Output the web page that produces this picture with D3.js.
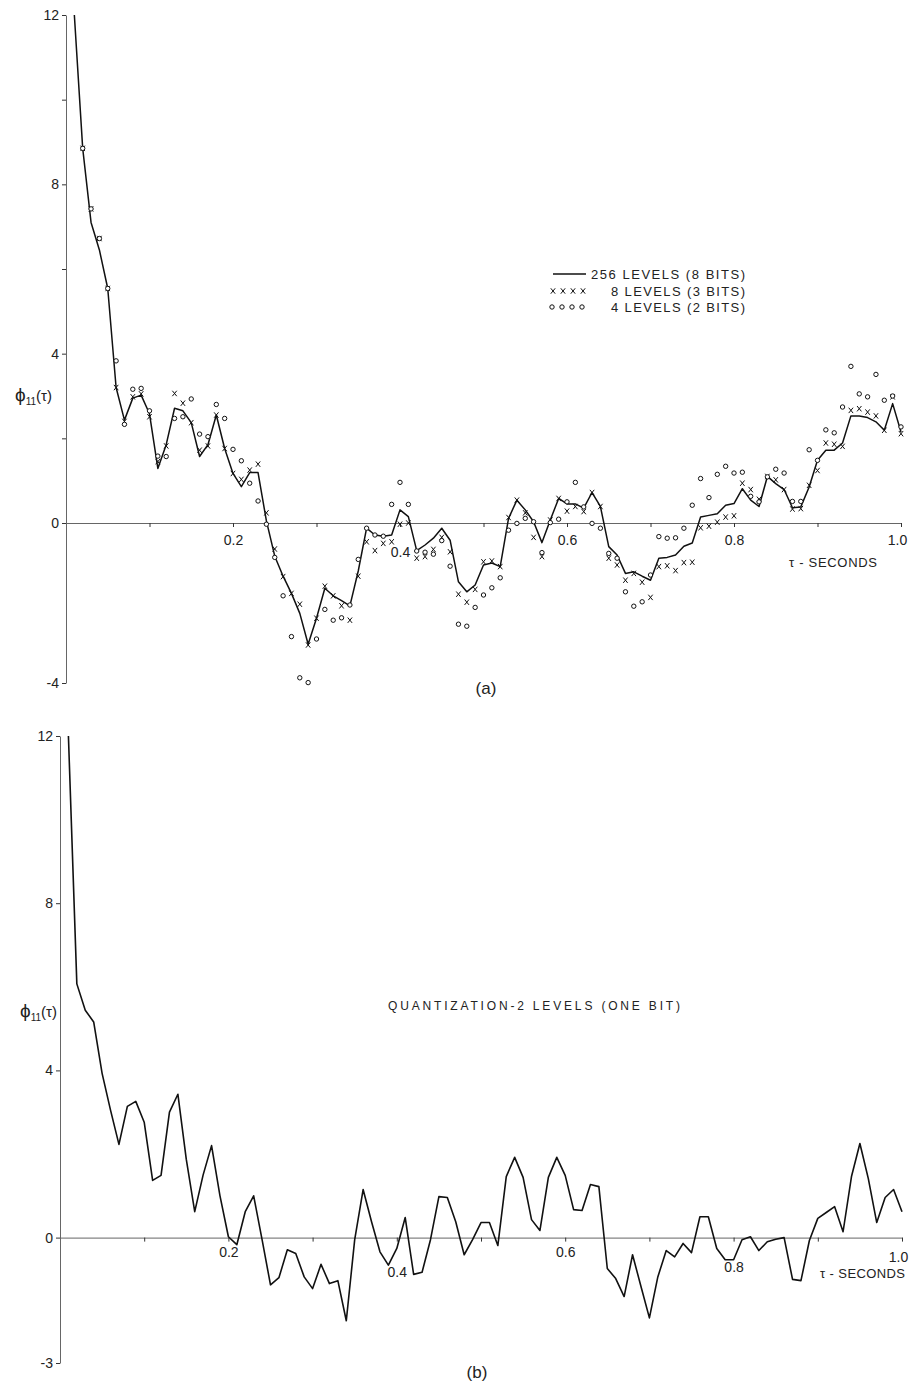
<!DOCTYPE html>
<html>
<head>
<meta charset="utf-8">
<script src="https://cdn.jsdelivr.net/npm/d3@7"></script>
<style>
  body { margin: 0; background: #fff; }
  svg text { font-family: 'Liberation Sans', 'DejaVu Sans', sans-serif; fill: #222; }
  .axis .domain { stroke: #666; stroke-width: 1; }
  .axis .tick line { stroke: #333; stroke-width: 1; }
  .axis .tick text { font-size: 14px; fill: #222; }
</style>
</head>
<body>
<svg id="chart" width="909" height="1387"></svg>
<script>
// lag tau in seconds (one sample every 0.01 s)
const tau = [0.01, 0.02, 0.03, 0.04, 0.05, 0.06, 0.07, 0.08, 0.09, 0.10,
  0.11, 0.12, 0.13, 0.14, 0.15, 0.16, 0.17, 0.18, 0.19, 0.20,
  0.21, 0.22, 0.23, 0.24, 0.25, 0.26, 0.27, 0.28, 0.29, 0.30,
  0.31, 0.32, 0.33, 0.34, 0.35, 0.36, 0.37, 0.38, 0.39, 0.40,
  0.41, 0.42, 0.43, 0.44, 0.45, 0.46, 0.47, 0.48, 0.49, 0.50,
  0.51, 0.52, 0.53, 0.54, 0.55, 0.56, 0.57, 0.58, 0.59, 0.60,
  0.61, 0.62, 0.63, 0.64, 0.65, 0.66, 0.67, 0.68, 0.69, 0.70,
  0.71, 0.72, 0.73, 0.74, 0.75, 0.76, 0.77, 0.78, 0.79, 0.80,
  0.81, 0.82, 0.83, 0.84, 0.85, 0.86, 0.87, 0.88, 0.89, 0.90,
  0.91, 0.92, 0.93, 0.94, 0.95, 0.96, 0.97, 0.98, 0.99, 1.00];

// (a) 256 levels (8 bits) - solid line
const levels256 = [12, 8.85, 7.1, 6.45, 5.54, 3.2, 2.43, 2.95, 3.02, 2.58,
  1.29, 1.85, 2.71, 2.65, 2.37, 1.57, 1.85, 2.55, 1.76, 1.17,
  0.86, 1.19, 1.19, 0.05, -0.83, -1.33, -1.76, -2.26, -3.03, -2.38,
  -1.63, -1.82, -1.94, -2.07, -1.2, -0.13, -0.3, -0.33, -0.3, 0.31,
  0.15, -0.69, -0.55, -0.38, -0.13, -0.43, -1.47, -1.72, -1.55, -1.05,
  -1.0, -1.09, 0.11, 0.54, 0.31, 0.03, -0.49, 0.07, 0.58, 0.45,
  0.45, 0.35, 0.72, 0.39, -0.59, -0.8, -1.26, -1.22, -1.33, -1.43,
  -0.88, -0.86, -0.8, -0.58, -0.5, 0.14, 0.18, 0.22, 0.42, 0.46,
  0.81, 0.54, 0.39, 1.1, 0.93, 0.79, 0.36, 0.38, 0.85, 1.48,
  1.72, 1.72, 1.89, 2.53, 2.53, 2.49, 2.39, 2.19, 2.82, 2.15];

// (a) 8 levels (3 bits) - x marks
const levels8 = [null, 8.85, 7.42, 6.72, 5.54, 3.2, 2.4, 2.98, 3.05, 2.51,
  1.45, 1.82, 3.06, 2.83, 2.37, 1.72, 1.82, 2.55, 1.76, 1.17,
  1.03, 1.25, 1.39, 0.24, -0.65, -1.34, -1.76, -2.03, -3.05, -2.38,
  -1.58, -1.82, -2.07, -2.43, -1.33, -0.47, -0.69, -0.51, -0.47, -0.03,
  0.0, -0.88, -0.84, -0.66, -0.36, -0.72, -1.78, -1.98, -1.66, -0.97,
  -0.95, -1.09, 0.13, 0.54, 0.24, -0.36, -0.84, 0.07, 0.58, 0.28,
  0.39, 0.27, 0.72, 0.39, -0.88, -1.05, -1.43, -1.26, -1.48, -1.86,
  -1.09, -1.07, -1.19, -0.99, -0.98, -0.12, -0.08, 0.02, 0.14, 0.17,
  0.94, 0.79, 0.56, 1.1, 1.02, 0.79, 0.33, 0.34, 0.89, 1.24,
  1.89, 1.86, 1.81, 2.66, 2.7, 2.62, 2.53, 2.19, 2.98, 2.11];

// (a) 4 levels (2 bits) - small circles
const levels4 = [null, 8.85, 7.42, 6.72, 5.54, 3.83, 2.33, 3.16, 3.18, 2.65,
  1.58, 1.57, 2.47, 2.51, 2.93, 2.1, 2.04, 2.8, 2.47, 1.74,
  1.47, 0.94, 0.52, -0.03, -0.86, -1.82, -2.84, -3.87, -3.99, -2.9,
  -2.16, -2.43, -2.37, -2.05, -0.91, -0.13, -0.3, -0.33, 0.44, 0.96,
  0.44, -0.7, -0.73, -0.78, -0.44, -1.08, -2.53, -2.58, -2.11, -1.8,
  -1.62, -1.37, -0.18, -0.01, 0.11, 0.03, -0.74, 0.01, 0.09, 0.5,
  0.96, 0.38, -0.01, -0.13, -0.76, -0.88, -1.72, -2.08, -1.97, -1.3,
  -0.34, -0.38, -0.37, -0.13, 0.42, 1.05, 0.6, 1.15, 1.34, 1.18,
  1.2, 0.63, 0.5, 1.09, 1.27, 1.18, 0.51, 0.51, 1.73, 1.48,
  2.2, 2.13, 2.74, 3.7, 3.05, 2.98, 3.51, 2.9, 3.0, 2.27];

// (b) quantization to 2 levels (one bit)
const oneBit = [12.0, 6.07, 5.44, 5.16, 3.93, 3.05, 2.23, 3.14, 3.26, 2.76,
  1.37, 1.49, 3.0, 3.43, 1.87, 0.62, 1.5, 2.2, 1.0, 0.02,
  -0.17, 0.62, 1.0, -0.05, -1.13, -0.96, -0.29, -0.38, -0.94, -1.22,
  -0.64, -1.1, -1.03, -1.99, -0.05, 1.15, 0.38, -0.34, -0.66, -0.26,
  0.48, -0.88, -0.83, -0.05, 0.98, 0.96, 0.38, -0.41, -0.05, 0.36,
  0.36, -0.19, 1.46, 1.92, 1.44, 0.43, 0.17, 1.44, 1.92, 1.49,
  0.67, 0.65, 1.27, 1.22, -0.74, -0.98, -1.41, -0.41, -1.17, -1.92,
  -0.94, -0.31, -0.46, -0.14, -0.36, 0.5, 0.5, -0.26, -0.53, -0.53,
  -0.05, 0.02, -0.31, -0.1, -0.04, 0.0, -1.0, -1.03, -0.07, 0.46,
  0.6, 0.74, 0.14, 1.46, 2.25, 1.41, 0.36, 0.96, 1.15, 0.62];

const xTicks = [0.1, 0.2, 0.3, 0.4, 0.5, 0.6, 0.7, 0.8, 0.9, 1.0];
const xLabels = [0.2, 0.4, 0.6, 0.8, 1.0];
const yTicksA = [-4, 0, 2, 4, 6, 8, 10, 12];
const yLabelsA = [-4, 0, 4, 8, 12];
const yTicksB = [-3, 0, 4, 8, 12];
const yLabelsB = [-3, 0, 4, 8, 12];

const legendItems = ['256 LEVELS (8 BITS)', '8 LEVELS (3 BITS)', '4 LEVELS (2 BITS)'];

const svg = d3.select('#chart');

const crossPath = 'M-2.2,-2.7L2.2,2.7M2.2,-2.7L-2.2,2.7';

function drawAxes(g, x, y, yTicks, yLabels, labelDrop) {
    g.append('g')
        .attr('class', 'axis')
        .attr('transform', `translate(${x(0)},0)`)
        .call(d3.axisLeft(y).tickValues(yTicks).tickSize(4).tickSizeOuter(0).tickPadding(3)
            .tickFormat(d => yLabels.includes(d) ? String(d) : ''));

    const xa = g.append('g')
        .attr('class', 'axis')
        .attr('transform', `translate(0,${y(0)})`)
        .call(d3.axisBottom(x).tickValues(xTicks).tickSize(4).tickSizeOuter(0)
            .tickFormat(d => xLabels.includes(d) ? d.toFixed(1) : ''));

    xa.selectAll('.tick text')
        .attr('y', d => labelDrop[d.toFixed(1)] || labelDrop.base)
        .attr('x', d => d === 1 ? -4 : 0);  // keep the last label inside the page
}

function phiLabel(g, px, py) {
    const t = g.append('text').attr('x', px).attr('y', py);
    t.append('tspan').text('ϕ').style('font-size', '19px');
    t.append('tspan').text('11').style('font-size', '10px').attr('dy', 4);
    t.append('tspan').text('(τ)').style('font-size', '15px').attr('dy', -4);
}

// ---------- panel (a) ----------
const gA = svg.append('g');
const xA = d3.scaleLinear().domain([0, 1]).range([66, 901]);
const yA = d3.scaleLinear().domain([-4, 0, 12]).range([683, 523, 15]);

drawAxes(gA, xA, yA, yTicksA, yLabelsA, { base: 12, '0.4': 24 });

const line = (x, y) => d3.line()
    .defined(d => d[1] !== null)
    .x(d => x(d[0]))
    .y(d => y(d[1]));

gA.append('path')
    .datum(tau.map((t, i) => [t, levels256[i]]))
    .attr('fill', 'none')
    .attr('stroke', '#111')
    .attr('stroke-width', 1.5)
    .attr('stroke-linejoin', 'round')
    .attr('d', line(xA, yA));

gA.selectAll('.mk8')
    .data(tau.map((t, i) => [t, levels8[i]]).filter(d => d[1] !== null))
    .enter().append('path')
    .attr('class', 'mk8')
    .attr('transform', d => `translate(${xA(d[0])},${yA(d[1])})`)
    .attr('d', crossPath)
    .attr('stroke', '#111')
    .attr('stroke-width', 1);

gA.selectAll('.mk4')
    .data(tau.map((t, i) => [t, levels4[i]]).filter(d => d[1] !== null))
    .enter().append('circle')
    .attr('class', 'mk4')
    .attr('cx', d => xA(d[0]))
    .attr('cy', d => yA(d[1]))
    .attr('r', 2.2)
    .attr('fill', '#fff')
    .attr('stroke', '#111')
    .attr('stroke-width', 1);

// legend
const lg = gA.append('g').attr('transform', 'translate(553,274)');
lg.append('line').attr('x1', 0).attr('x2', 33).attr('y1', 0).attr('y2', 0)
    .attr('stroke', '#111').attr('stroke-width', 1.3);
[0, 10, 20, 30].forEach(dx => {
    lg.append('path').attr('d', crossPath).attr('transform', `translate(${dx},17)`)
        .attr('stroke', '#111').attr('stroke-width', 1).attr('fill', 'none');
    lg.append('circle').attr('cx', dx - 1).attr('cy', 33).attr('r', 2.2)
        .attr('fill', 'none').attr('stroke', '#111').attr('stroke-width', 1);
});
lg.selectAll('.lt')
    .data(legendItems)
    .enter().append('text')
    .attr('class', 'lt')
    .attr('x', (d, i) => i === 0 ? 38 : 58)
    .attr('y', (d, i) => 5 + i * 16.5)
    .attr('textLength', (d, i) => i === 0 ? 154 : 134)
    .attr('lengthAdjust', 'spacing')
    .style('font-size', '13px')
    .text(d => d);

gA.append('text').attr('x', 789).attr('y', 567)
    .attr('textLength', 88).attr('lengthAdjust', 'spacing')
    .style('font-size', '13px').text('τ - SECONDS');

gA.append('text').attr('x', 486).attr('y', 694).attr('text-anchor', 'middle')
    .style('font-size', '17px').text('(a)');

phiLabel(gA, 15, 401);

// ---------- panel (b) ----------
const gB = svg.append('g');
const xB = d3.scaleLinear().domain([0, 1]).range([60, 902]);
const yB = d3.scaleLinear().domain([-3, 12]).range([1363, 736]);

drawAxes(gB, xB, yB, yTicksB, yLabelsB, { base: 9, '0.4': 29, '0.8': 24, '1.0': 14 });

gB.append('path')
    .datum(tau.map((t, i) => [t, oneBit[i]]))
    .attr('fill', 'none')
    .attr('stroke', '#111')
    .attr('stroke-width', 1.6)
    .attr('stroke-linejoin', 'round')
    .attr('d', line(xB, yB));

gB.append('text').attr('x', 388).attr('y', 1010)
    .attr('textLength', 292).attr('lengthAdjust', 'spacing')
    .style('font-size', '12px').text('QUANTIZATION-2 LEVELS (ONE BIT)');

gB.append('text').attr('x', 820).attr('y', 1278)
    .attr('textLength', 85).attr('lengthAdjust', 'spacing')
    .style('font-size', '13px').text('τ - SECONDS');

gB.append('text').attr('x', 477).attr('y', 1378).attr('text-anchor', 'middle')
    .style('font-size', '17px').text('(b)');

phiLabel(gB, 20, 1017);
</script>
</body>
</html>
